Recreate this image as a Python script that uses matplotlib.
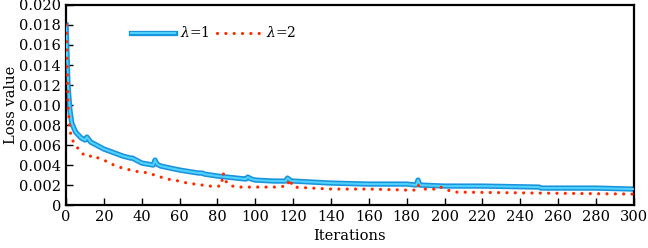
import numpy as np
import matplotlib
matplotlib.use('Agg')
import matplotlib.pyplot as plt
from matplotlib.lines import Line2D

# lambda = 1 (blue)
it_1 = [0, 1, 2, 3, 5, 8, 10, 11, 13, 20, 30, 34, 35, 40, 46, 47, 48, 50, 60, 70,
        72, 73, 80, 90, 95, 96, 98, 100, 110, 116, 117, 119, 120, 140, 160, 180,
        185, 186, 187, 200, 220, 250, 251, 280, 300]
loss_1 = [0.0180, 0.0120, 0.0095, 0.0082, 0.0073, 0.0067, 0.0065, 0.0068, 0.0063,
          0.0056, 0.0049, 0.0047, 0.0047, 0.0042, 0.0040, 0.0045, 0.0041, 0.0039,
          0.0035, 0.0032, 0.0032, 0.0031, 0.0029, 0.0027, 0.0026, 0.0028, 0.0026,
          0.0025, 0.0024, 0.0024, 0.0027, 0.0024, 0.0024, 0.0022, 0.0021, 0.0021,
          0.0020, 0.0025, 0.0020, 0.0019, 0.0019, 0.0018, 0.0017, 0.0017, 0.0016]

# lambda = 2 (red dotted)
it_2 = [0, 1, 2, 3, 5, 8, 12, 14, 17, 20, 24, 28, 32, 36, 40, 44, 48, 52, 56, 60,
        64, 68, 72, 76, 80, 82, 83, 84, 86, 90, 100, 110, 117, 118, 120, 140, 160,
        180, 185, 186, 188, 197, 198, 200, 205, 250, 300]
loss_2 = [0.0180, 0.0100, 0.0075, 0.0066, 0.0060, 0.0052, 0.0048, 0.0050, 0.0047,
          0.0045, 0.0041, 0.0038, 0.0036, 0.0034, 0.0033, 0.0032, 0.0029, 0.0027,
          0.0025, 0.0024, 0.0022, 0.0021, 0.0020, 0.0019, 0.0019, 0.0019, 0.0032,
          0.0025, 0.0020, 0.0018, 0.0018, 0.0018, 0.0019, 0.0026, 0.0018, 0.0016,
          0.0016, 0.0015, 0.0015, 0.0020, 0.0016, 0.0016, 0.0018, 0.0016, 0.0013,
          0.0012, 0.0011]

xticks = np.arange(0, 301, 20)
yticks = np.arange(0, 0.0201, 0.002)
ytick_labels = ['0'] + ['%.3f' % v for v in yticks[1:]]

plt.rcParams['font.family'] = 'DejaVu Serif'
plt.rcParams['mathtext.fontset'] = 'dejavuserif'

fig = plt.figure(figsize=(6.48, 2.48), dpi=100)
ax = fig.add_axes([0.102, 0.173, 0.876, 0.807])

blue_dark = '#1a93dc'
blue_light = '#4fd2ff'
red = '#ff2a00'
dots = (0, (0.01, 2.6))

ax.plot(it_1, loss_1, color=blue_dark, lw=3.8, solid_joinstyle='round', zorder=2)
ax.plot(it_1, loss_1, color=blue_light, lw=1.5, solid_joinstyle='round', zorder=3)
ax.plot(it_2, loss_2, color=red, lw=2.3, linestyle=dots,
        dash_capstyle='round', zorder=4)

h1 = (Line2D([], [], color=blue_dark, lw=3.8), Line2D([], [], color=blue_light, lw=1.5))
h2 = Line2D([], [], color=red, lw=2.3, linestyle=dots, dash_capstyle='round')
ax.legend([h1, h2], [r'$\lambda$=1', r'$\lambda$=2'], ncol=2, frameon=False,
          loc='center left', bbox_to_anchor=(0.114, 0.86), borderaxespad=0,
          borderpad=0, handlelength=3.2, handletextpad=0.35, columnspacing=0.5,
          fontsize=10)

ax.set_xlim(0, 300)
ax.set_ylim(0, 0.020)
ax.set_xticks(xticks)
ax.set_yticks(yticks)
ax.set_yticklabels(ytick_labels)
ax.tick_params(direction='in', length=5, width=1.0, labelsize=10.5, top=False, right=False)
for s in ax.spines.values():
    s.set_linewidth(1.6)
ax.set_xlabel('Iterations', fontsize=10.5)
ax.set_ylabel('Loss value', fontsize=10.5)
ax.xaxis.set_label_coords(0.5, -0.12)
ax.yaxis.set_label_coords(-0.085, 0.5)

fig.savefig('out.png', dpi=100)
